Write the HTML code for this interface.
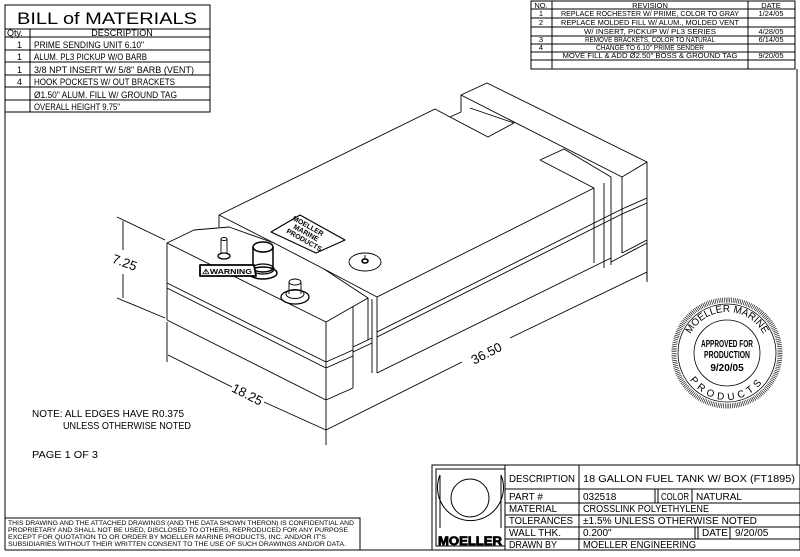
<!DOCTYPE html>
<html><head><meta charset="utf-8"><style>
html,body{margin:0;padding:0;background:#fff;}
svg{display:block;}
text{font-family:"Liberation Sans Narrow","Liberation Sans",sans-serif;fill:#000;}
</style></head><body>
<svg width="800" height="557" viewBox="0 0 800 557" xmlns="http://www.w3.org/2000/svg">
<g stroke="#000" fill="none" stroke-width="1">
<line x1="5" y1="5" x2="5" y2="550"/>
<line x1="797" y1="69" x2="797" y2="465"/>
<rect x="5" y="5" width="205" height="107"/>
<line x1="5" y1="29" x2="210" y2="29"/>
<line x1="5" y1="37" x2="210" y2="37"/>
<line x1="5" y1="50" x2="210" y2="50"/>
<line x1="5" y1="62" x2="210" y2="62"/>
<line x1="5" y1="75" x2="210" y2="75"/>
<line x1="5" y1="87" x2="210" y2="87"/>
<line x1="5" y1="100" x2="210" y2="100"/>
<line x1="30" y1="29" x2="30" y2="112"/>
<rect x="531" y="1" width="264" height="68"/>
<line x1="552" y1="1" x2="552" y2="69"/>
<line x1="748" y1="1" x2="748" y2="69"/>
<line x1="531" y1="9" x2="795" y2="9"/>
<line x1="531" y1="18" x2="795" y2="18"/>
<line x1="531" y1="27" x2="795" y2="27"/>
<line x1="531" y1="36" x2="795" y2="36"/>
<line x1="531" y1="44" x2="795" y2="44"/>
<line x1="531" y1="52" x2="795" y2="52"/>
<line x1="531" y1="60" x2="795" y2="60"/>
<polyline points="5,518 360,518 360,550"/>
<line x1="5" y1="550" x2="800" y2="550"/>
<rect x="432" y="465" width="368" height="85"/>
<rect x="436" y="469" width="69" height="77"/>
<line x1="505" y1="465" x2="505" y2="550"/>
<line x1="579" y1="465" x2="579" y2="550"/>
<line x1="505" y1="489" x2="800" y2="489"/>
<line x1="505" y1="503" x2="800" y2="503"/>
<line x1="505" y1="515" x2="800" y2="515"/>
<line x1="505" y1="527" x2="800" y2="527"/>
<line x1="505" y1="539" x2="800" y2="539"/>
<line x1="655" y1="489" x2="655" y2="503"/><line x1="658" y1="489" x2="658" y2="503"/>
<line x1="692" y1="489" x2="692" y2="503"/>
<line x1="695" y1="527" x2="695" y2="539"/><line x1="698" y1="527" x2="698" y2="539"/>
<line x1="730" y1="527" x2="730" y2="539"/>
<path d="M440,475 A33,33 0 1 0 501,475"/>
<circle cx="470" cy="498" r="19"/>
<line x1="440" y1="475" x2="440" y2="528"/><line x1="501" y1="475" x2="501" y2="528"/>
</g>
<text x="470" y="545" font-size="12" font-weight="bold" text-anchor="middle" textLength="64" lengthAdjust="spacingAndGlyphs" fill="#fff" stroke="#000" stroke-width="0.8">MOELLER</text>

<text x="107" y="24" font-size="17" text-anchor="middle" textLength="180" lengthAdjust="spacingAndGlyphs">BILL  of  MATERIALS</text>
<g font-size="9">
<text x="7" y="36">Qty.</text><text x="122" y="36" text-anchor="middle">DESCRIPTION</text>
<text x="17" y="48">1</text><text x="34" y="48" textLength="110" lengthAdjust="spacingAndGlyphs">PRIME SENDING UNIT 6.10"</text>
<text x="17" y="60">1</text><text x="34" y="60" textLength="113" lengthAdjust="spacingAndGlyphs">ALUM. PL3 PICKUP W/O BARB</text>
<text x="17" y="73">1</text><text x="34" y="73" textLength="160" lengthAdjust="spacingAndGlyphs">3/8 NPT INSERT W/ 5/8" BARB (VENT)</text>
<text x="17" y="85">4</text><text x="34" y="85" textLength="141" lengthAdjust="spacingAndGlyphs">HOOK POCKETS W/ OUT BRACKETS</text>
<text x="34" y="98" textLength="143" lengthAdjust="spacingAndGlyphs">Ø1.50" ALUM. FILL W/ GROUND TAG</text>
<text x="34" y="110" textLength="86" lengthAdjust="spacingAndGlyphs">OVERALL HEIGHT 9.75"</text>
</g>
<g font-size="7.5" text-anchor="middle">
<text x="541" y="8">NO.</text><text x="650" y="8">REVISION</text><text x="771" y="8">DATE</text>
<text x="541" y="16">1</text><text x="650" y="16" textLength="178" lengthAdjust="spacingAndGlyphs">REPLACE ROCHESTER W/ PRIME, COLOR TO GRAY</text><text x="771" y="16">1/24/05</text>
<text x="541" y="25">2</text><text x="650" y="25" textLength="178" lengthAdjust="spacingAndGlyphs">REPLACE MOLDED FILL W/ ALUM., MOLDED VENT</text>
<text x="650" y="34" textLength="132" lengthAdjust="spacingAndGlyphs">W/ INSERT, PICKUP W/ PL3 SERIES</text><text x="771" y="34">4/28/05</text>
<text x="541" y="42">3</text><text x="650" y="42" textLength="130" lengthAdjust="spacingAndGlyphs">REMOVE BRACKETS, COLOR TO NATURAL</text><text x="771" y="42">6/14/05</text>
<text x="541" y="50">4</text><text x="650" y="50" textLength="108" lengthAdjust="spacingAndGlyphs">CHANGE TO 6.10" PRIME SENDER</text>
<text x="650" y="58" textLength="175" lengthAdjust="spacingAndGlyphs">MOVE FILL &amp; ADD Ø2.50" BOSS &amp; GROUND TAG</text><text x="771" y="58">9/20/05</text>
</g>
<g font-size="10">
<text x="509" y="482" textLength="66" lengthAdjust="spacingAndGlyphs">DESCRIPTION</text>
<text x="583" y="482" textLength="212" lengthAdjust="spacingAndGlyphs">18 GALLON FUEL TANK W/ BOX (FT1895)</text>
<text x="509" y="500">PART  #</text><text x="583" y="500">032518</text><text x="661" y="500" textLength="28" lengthAdjust="spacingAndGlyphs">COLOR</text><text x="696" y="500">NATURAL</text>
<text x="509" y="512" textLength="48" lengthAdjust="spacingAndGlyphs">MATERIAL</text><text x="583" y="512" textLength="126" lengthAdjust="spacingAndGlyphs">CROSSLINK POLYETHYLENE</text>
<text x="509" y="524" textLength="64" lengthAdjust="spacingAndGlyphs">TOLERANCES</text><text x="583" y="524" textLength="174" lengthAdjust="spacingAndGlyphs">±1.5% UNLESS OTHERWISE NOTED</text>
<text x="509" y="536" textLength="52" lengthAdjust="spacingAndGlyphs">WALL THK.</text><text x="583" y="536">0.200"</text><text x="702" y="536">DATE</text><text x="735" y="536">9/20/05</text>
<text x="509" y="548" textLength="48" lengthAdjust="spacingAndGlyphs">DRAWN BY</text><text x="583" y="548" textLength="113" lengthAdjust="spacingAndGlyphs">MOELLER ENGINEERING</text>
</g>
<g font-size="10">
<text x="32" y="417" textLength="152" lengthAdjust="spacingAndGlyphs">NOTE: ALL EDGES HAVE R0.375</text>
<text x="63" y="429" textLength="128" lengthAdjust="spacingAndGlyphs">UNLESS OTHERWISE NOTED</text>
<text x="32" y="458" textLength="66" lengthAdjust="spacingAndGlyphs">PAGE 1 OF 3</text>
</g>
<g font-size="6.3">
<text x="8" y="525" textLength="346" lengthAdjust="spacingAndGlyphs">THIS DRAWING AND THE ATTACHED DRAWINGS (AND THE DATA SHOWN THERON) IS CONFIDENTIAL AND</text>
<text x="8" y="532" textLength="340" lengthAdjust="spacingAndGlyphs">PROPRIETARY AND SHALL NOT BE USED, DISCLOSED TO OTHERS, REPRODUCED FOR ANY PURPOSE</text>
<text x="8" y="539" textLength="318" lengthAdjust="spacingAndGlyphs">EXCEPT FOR QUOTATION TO OR ORDER BY MOELLER MARINE PRODUCTS, INC. AND/OR IT'S</text>
<text x="8" y="546" textLength="338" lengthAdjust="spacingAndGlyphs">SUBSIDIARIES WITHOUT THEIR WRITTEN CONSENT TO THE USE OF SUCH DRAWINGS AND/OR DATA.</text>
</g>

<!-- TANK -->
<g stroke="#000" fill="none" stroke-width="0.9" stroke-linejoin="round">
<polyline points="450,117 461,112 461,95 487,83 647,162 647,280"/>
<line x1="461" y1="95" x2="622" y2="177"/>
<line x1="622" y1="177" x2="647" y2="162"/>
<polyline points="450,117 488,137 514,123 470,108"/>
<line x1="622" y1="177" x2="622" y2="253"/>
<polyline points="540,160 564,149 611,177 611,265"/>
<line x1="540" y1="160" x2="594" y2="188"/>
<line x1="604" y1="183" x2="604" y2="268"/>
<polyline points="219,227 219,215 435,109 450,117"/>
<polyline points="219,215 274,243"/>
<line x1="377" y1="297" x2="594" y2="188"/>
<line x1="594" y1="188" x2="594" y2="263"/>
<line x1="377" y1="297" x2="377" y2="373"/>
<line x1="372" y1="299" x2="372" y2="373"/>
<line x1="377" y1="332" x2="622" y2="209"/>
<line x1="377" y1="337" x2="622" y2="214"/>
<line x1="622" y1="209" x2="647" y2="198"/>
<line x1="622" y1="214" x2="647" y2="203"/>
<line x1="377" y1="373" x2="611" y2="258"/>
<line x1="611" y1="262" x2="647" y2="243"/>
<line x1="622" y1="253" x2="647" y2="240"/>
<polygon points="167,243 194,230 229,227 274,243 324,269 368,298 326,322" fill="#fff"/>
<line x1="167" y1="243" x2="167" y2="320"/>
<line x1="167" y1="320" x2="326" y2="400"/>
<line x1="326" y1="322" x2="326" y2="400"/>
<line x1="326" y1="400" x2="353" y2="388"/>
<line x1="353" y1="307" x2="353" y2="388"/>
<line x1="368" y1="298" x2="368" y2="340"/>
<line x1="353" y1="347" x2="372" y2="338"/>
<line x1="353" y1="352" x2="372" y2="343"/>
<line x1="167" y1="283" x2="326" y2="362"/>
<line x1="167" y1="288" x2="326" y2="368"/>
<line x1="326" y1="362" x2="353" y2="350"/>
<line x1="326" y1="368" x2="353" y2="356"/>
<line x1="324" y1="269" x2="377" y2="297"/>
<ellipse cx="365" cy="262" rx="16" ry="9"/>
<ellipse cx="365" cy="261" rx="3" ry="2" stroke-width="1.6"/>
<line x1="365" y1="255" x2="365" y2="259"/>
<ellipse cx="263" cy="273" rx="14" ry="6" stroke-width="1.5"/>
<ellipse cx="263" cy="269" rx="11" ry="5" stroke-width="1.3"/>
<path d="M253,247 L253,268 A10,4 0 0 0 273,268 L273,247" stroke-width="1.5"/>
<ellipse cx="263" cy="247" rx="10" ry="5" stroke-width="1.5"/>
<ellipse cx="224" cy="256" rx="6" ry="3" stroke-width="1.3"/>
<path d="M221,239 L221,254 M227,239 L227,254"/>
<ellipse cx="224" cy="239" rx="3" ry="1.5"/>
<ellipse cx="295" cy="297" rx="14" ry="7" stroke-width="1.3"/>
<ellipse cx="295" cy="294" rx="9" ry="4.5"/>
<path d="M289,282 L289,294 M301,282 L301,294"/>
<ellipse cx="295" cy="282" rx="6" ry="3"/>
<polygon points="200,265 254,265 256,276 200,276" fill="#fff" stroke-width="1.8"/>
<polygon points="271,232 300,215 345,240 316,253" fill="#fff" stroke-width="1.2"/>
<line x1="117" y1="217" x2="165" y2="240"/>
<line x1="117" y1="298" x2="165" y2="318"/>
<line x1="123" y1="221" x2="123" y2="250"/>
<line x1="123" y1="274" x2="123" y2="298"/>
<line x1="167" y1="322" x2="167" y2="362"/>
<line x1="168" y1="355" x2="232" y2="387"/>
<line x1="264" y1="402" x2="326" y2="430"/>
<line x1="326" y1="400" x2="326" y2="445"/>
<line x1="326" y1="430" x2="462" y2="362"/>
<line x1="510" y1="338" x2="647" y2="272"/>
<line x1="647" y1="245" x2="647" y2="282"/>
</g>
<text x="202" y="274" font-size="7" font-weight="bold" textLength="50" lengthAdjust="spacingAndGlyphs">⚠WARNING</text>
<g font-size="7" font-weight="bold" text-anchor="middle">
<text transform="translate(307,228) rotate(29)">MOELLER</text>
<text transform="translate(305,235) rotate(29)">MARINE</text>
<text transform="translate(303,242) rotate(29)">PRODUCTS</text>
</g>
<text x="112" y="266" font-size="13" transform="rotate(20 122 262)">7.25</text>
<text x="232" y="398" font-size="13" transform="rotate(27 246 392)">18.25</text>
<text x="470" y="358" font-size="13" transform="rotate(-27 486 353)">36.50</text>

<g stroke="#000" fill="none">
<circle cx="727" cy="353" r="53" stroke-width="5" stroke-dasharray="0.6 1.2"/>
<circle cx="727" cy="353" r="49" stroke-width="0.8"/>
<circle cx="727" cy="353" r="33" stroke-width="0.8"/>
</g>
<defs><path id="arc1" d="M686,353 A41,41 0 0 1 768,353"/><path id="arc2" d="M683,356 A44,44 0 0 0 771,356"/></defs>
<text font-size="10"><textPath href="#arc1" startOffset="50%" text-anchor="middle">MOELLER MARINE</textPath></text>
<text font-size="10" letter-spacing="4"><textPath href="#arc2" startOffset="50%" text-anchor="middle">PRODUCTS</textPath></text>
<g font-size="10" font-weight="bold" text-anchor="middle">
<text x="727" y="347" textLength="52" lengthAdjust="spacingAndGlyphs">APPROVED FOR</text>
<text x="727" y="358" textLength="46" lengthAdjust="spacingAndGlyphs">PRODUCTION</text>
<text x="727" y="371">9/20/05</text>
</g>
</svg>
</body></html>
